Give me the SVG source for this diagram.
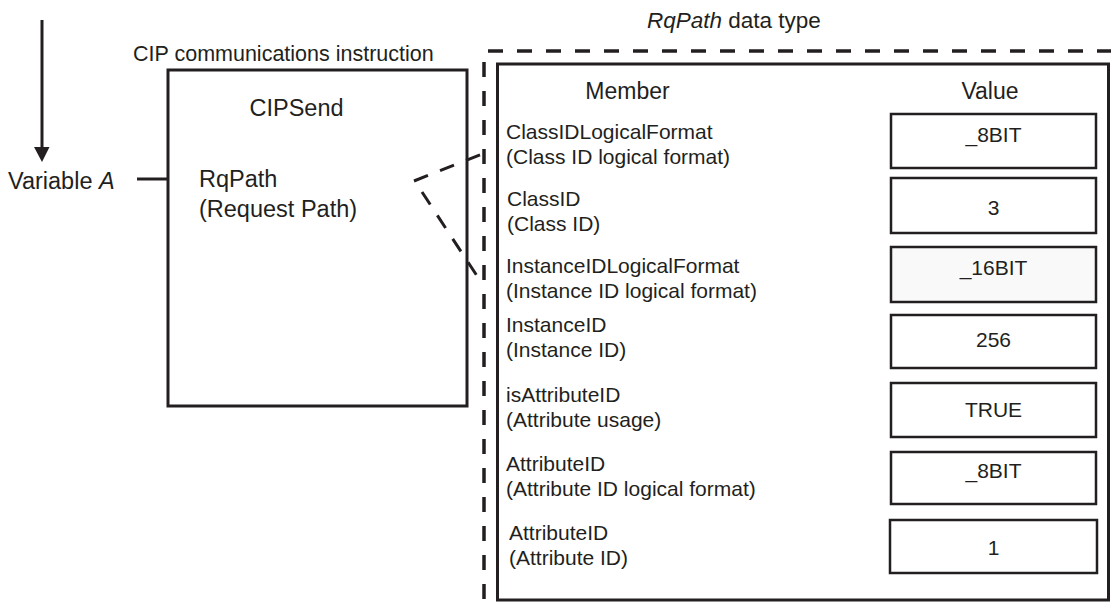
<svg xmlns="http://www.w3.org/2000/svg" width="1111" height="608" viewBox="0 0 1111 608">
  <style>
    text { font-family: "Liberation Sans", Arial, sans-serif; fill: #231f20; }
    .big { font-size: 23.5px; }
    .hdr { font-size: 23px; text-anchor: middle; }
    .lbl { font-size: 21px; }
    .val { font-size: 21px; text-anchor: middle; }
    .box { fill: #ffffff; stroke: #231f20; stroke-width: 3; }
    .vbox { fill: #ffffff; stroke: #231f20; stroke-width: 2.5; }
    .dash { fill: none; stroke: #231f20; stroke-width: 3.5; stroke-dasharray: 15 14; }
    .conn { fill: none; stroke: #231f20; stroke-width: 3; }
  </style>
  <rect width="1111" height="608" fill="#ffffff"/>

  <g id="flow-arrow">
    <line x1="42" y1="20" x2="42" y2="148" stroke="#231f20" stroke-width="3"/>
    <path d="M34,147 L49.5,147 L42,162 Z" fill="#231f20"/>
  </g>

  <g id="variable-a">
    <text class="big" x="8" y="189">Variable <tspan font-style="italic">A</tspan></text>
  </g>

  <g id="cip-instruction">
    <text x="133" y="61" font-size="21.5">CIP communications instruction</text>
    <rect class="box" x="168" y="70" width="299" height="336"/>
    <text class="big" x="296.5" y="116" text-anchor="middle">CIPSend</text>
    <text class="big" x="199" y="187">RqPath</text>
    <text class="big" x="199" y="217">(Request Path)</text>
  </g>

  <g id="rqpath-datatype">
    <text x="647" y="28" font-size="22.5"><tspan font-style="italic">RqPath</tspan> data type</text>
    <line class="dash" x1="488" y1="51" x2="1111" y2="51"/>
    <line class="dash" x1="484" y1="62" x2="484" y2="608" stroke-dasharray="16 14"/>
    <rect class="box" x="497.5" y="64" width="611" height="536"/>
    <text class="hdr" x="627.5" y="99">Member</text>
    <text class="hdr" x="990" y="99">Value</text>
  </g>

  <g id="row-classidlogicalformat">
    <text class="lbl" x="506" y="139">ClassIDLogicalFormat</text>
    <text class="lbl" x="506" y="164">(Class ID logical format)</text>
    <rect class="vbox" x="891" y="114" width="205" height="54"/>
    <text class="val" x="993.5" y="142">_8BIT</text>
  </g>
  <g id="row-classid">
    <text class="lbl" x="507" y="206">ClassID</text>
    <text class="lbl" x="507" y="231">(Class ID)</text>
    <rect class="vbox" x="891" y="178" width="205" height="55"/>
    <text class="val" x="993.5" y="215">3</text>
  </g>
  <g id="row-instanceidlogicalformat">
    <text class="lbl" x="506" y="273">InstanceIDLogicalFormat</text>
    <text class="lbl" x="506" y="298">(Instance ID logical format)</text>
    <rect class="vbox" x="891" y="247" width="205" height="55" style="fill:#f9f9f9"/>
    <text class="val" x="993.5" y="275">_16BIT</text>
  </g>
  <g id="row-instanceid">
    <text class="lbl" x="506" y="332">InstanceID</text>
    <text class="lbl" x="506" y="357">(Instance ID)</text>
    <rect class="vbox" x="891" y="315" width="205" height="53"/>
    <text class="val" x="993.5" y="347">256</text>
  </g>
  <g id="row-isattributeid">
    <text class="lbl" x="506" y="402">isAttributeID</text>
    <text class="lbl" x="506" y="427">(Attribute usage)</text>
    <rect class="vbox" x="891" y="383" width="205" height="54"/>
    <text class="val" x="993.5" y="417">TRUE</text>
  </g>
  <g id="row-attributeid-format">
    <text class="lbl" x="506" y="471">AttributeID</text>
    <text class="lbl" x="506" y="496">(Attribute ID logical format)</text>
    <rect class="vbox" x="891" y="452" width="205" height="52"/>
    <text class="val" x="993.5" y="478">_8BIT</text>
  </g>
  <g id="row-attributeid">
    <text class="lbl" x="509" y="540">AttributeID</text>
    <text class="lbl" x="509" y="565">(Attribute ID)</text>
    <rect class="vbox" x="890" y="520" width="207" height="53"/>
    <text class="val" x="993.5" y="555">1</text>
  </g>

  <g id="connectors">
    <line class="conn" x1="137" y1="179" x2="168" y2="179"/>
    <line class="conn" x1="414" y1="181" x2="486" y2="152.5" stroke-dasharray="15 13"/>
    <line class="conn" x1="422" y1="192" x2="481" y2="282" stroke-dasharray="15 13"/>
  </g>
</svg>
